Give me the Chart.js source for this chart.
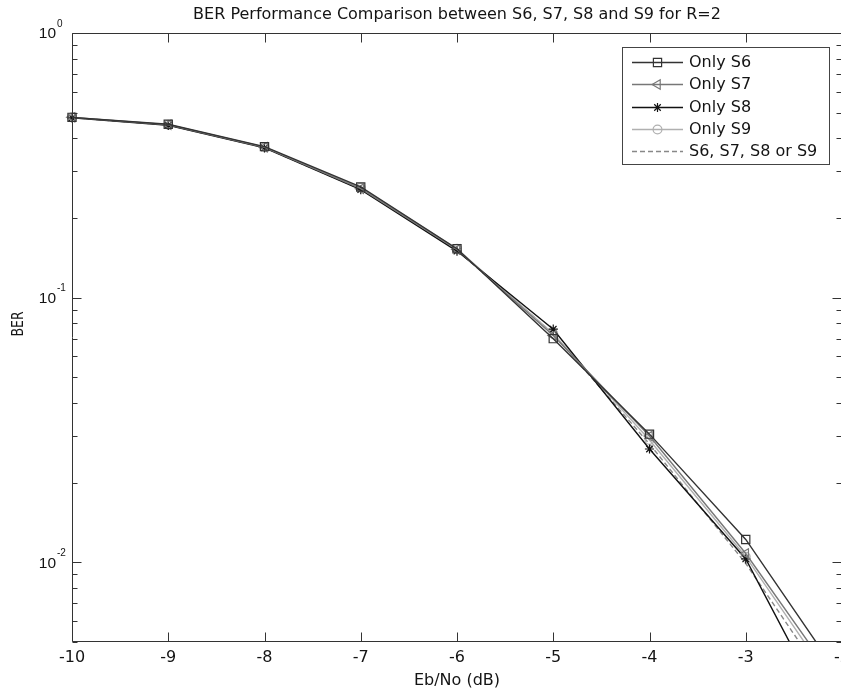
<!DOCTYPE html>
<html>
<head>
<meta charset="utf-8">
<title>BER Performance Comparison</title>
<style>
  html, body { margin: 0; padding: 0; background: #fff; overflow: hidden; width: 841px; height: 692px; }
  canvas { display: block; }
</style>
<script src="https://cdn.jsdelivr.net/npm/chart.js@4.4.0/dist/chart.umd.min.js"></script>
</head>
<body>
<canvas id="ber" width="880" height="692"></canvas>
<script>
// Eb/No sweep (dB) and measured bit error rates per subset
const ebno   = [-10, -9, -8, -7, -6, -5, -4, -3, -2];
const berS6  = [0.480, 0.452, 0.372, 0.262, 0.153, 0.0700, 0.0305, 0.0122, 0.0036];
const berS7  = [0.480, 0.450, 0.370, 0.258, 0.152, 0.0720, 0.0300, 0.0108, 0.0033];
const berS8  = [0.478, 0.448, 0.368, 0.256, 0.150, 0.0760, 0.0268, 0.0103, 0.0021];
const berS9  = [0.480, 0.450, 0.370, 0.260, 0.153, 0.0730, 0.0290, 0.0105, 0.0031];
const berAny = [0.479, 0.449, 0.369, 0.257, 0.151, 0.0730, 0.0280, 0.0099, 0.0029];

const seriesLabels = ['Only S6', 'Only S7', 'Only S8', 'Only S9', 'S6, S7, S8 or S9'];
const xTicks  = [-10, -9, -8, -7, -6, -5, -4, -3, -2];
const yDecades = [1, 0.1, 0.01];
const yMin = 0.005, yMax = 1;

const titleText = 'BER Performance Comparison between S6, S7, S8 and S9 for R=2';
const xTitle = 'Eb/No (dB)';
const yTitle = 'BER';

const FONT = "'DejaVu Sans', Verdana, sans-serif";
const NUM_FONT = "'Liberation Sans', Arial, Helvetica, sans-serif";
const INK = '#141414';

const pts = (ys) => ebno.map((x, i) => ({ x, y: ys[i] }));
const clipArea = { left: 12, top: 12, right: 0, bottom: 0 };

const datasets = [
  { label: seriesLabels[0], data: pts(berS6), borderColor: '#333333', pointStyle: 'rect', pointRadius: 5.8, pointRotation: 0 },
  { label: seriesLabels[1], data: pts(berS7), borderColor: '#777777', pointStyle: 'triangle', pointRadius: 5.4, pointRotation: -90 },
  { label: seriesLabels[2], data: pts(berS8), borderColor: '#111111', pointStyle: 'star', pointRadius: 4.6, pointRotation: 0 },
  { label: seriesLabels[3], data: pts(berS9), borderColor: '#b0b0b0', pointStyle: 'circle', pointRadius: 4.4, pointRotation: 0 },
  { label: seriesLabels[4], data: pts(berAny), borderColor: '#888888', pointStyle: false, pointRadius: 0, borderDash: [5, 3] }
].map(d => Object.assign({
  borderWidth: 1.4,
  pointBorderColor: d.borderColor,
  pointBackgroundColor: 'rgba(0,0,0,0)',
  pointBorderWidth: 1.2,
  tension: 0,
  fill: false,
  clip: clipArea
}, d));

// Axis box, inward tick marks, power-of-ten labels, rotated y title and legend
const axisDecor = {
  id: 'axisDecor',
  afterDatasetsDraw(chart) {
    const { ctx, chartArea: a, scales: { x, y } } = chart;
    const L = Math.round(a.left) + 0.5, R = Math.round(a.right) - 0.5;
    const T = Math.round(a.top) + 0.5, B = Math.round(a.bottom) - 0.5;
    ctx.save();
    ctx.strokeStyle = '#333';
    ctx.lineWidth = 1;
    ctx.setLineDash([]);
    ctx.beginPath();
    ctx.rect(L, T, R - L, B - T);
    // x ticks, bottom and top, pointing inward
    xTicks.forEach(v => {
      const px = Math.round(x.getPixelForValue(v)) + 0.5;
      ctx.moveTo(px, B); ctx.lineTo(px, B - 9);
      ctx.moveTo(px, T); ctx.lineTo(px, T + 9);
    });
    // y ticks: decades long, 2..9 multiples short
    for (let e = -3; e <= 0; e++) {
      for (let k = 1; k <= 9; k++) {
        const v = k * Math.pow(10, e);
        if (v < yMin * 0.999 || v > yMax * 1.001) continue;
        const len = k === 1 ? 9 : 5;
        const py = Math.round(y.getPixelForValue(v)) + 0.5;
        ctx.moveTo(L, py); ctx.lineTo(L + len, py);
        ctx.moveTo(R, py); ctx.lineTo(R - len, py);
      }
    }
    ctx.stroke();

    // decade labels 10^n
    ctx.fillStyle = INK;
    yDecades.forEach(v => {
      const py = y.getPixelForValue(v);
      const exp = String(Math.round(Math.log10(v)));
      ctx.font = `15.5px ${NUM_FONT}`;
      ctx.textAlign = 'right';
      ctx.textBaseline = 'middle';
      ctx.fillText('10', 56, py + 1);
      ctx.font = `10px ${NUM_FONT}`;
      ctx.textAlign = 'left';
      ctx.fillText(exp, 57, py - 9);
    });

    // rotated y-axis title
    ctx.save();
    ctx.translate(19, 324);
    ctx.rotate(-Math.PI / 2);
    ctx.scale(0.78, 1);
    ctx.font = `16px ${FONT}`;
    ctx.textAlign = 'center';
    ctx.textBaseline = 'middle';
    ctx.fillText(yTitle, 0, 0);
    ctx.restore();
    ctx.restore();
  },
  afterDraw(chart) {
    const { ctx } = chart;
    const bx = 622.5, by = 47.5, bw = 207, bh = 117;
    ctx.save();
    ctx.fillStyle = '#fff';
    ctx.strokeStyle = '#444';
    ctx.lineWidth = 1;
    ctx.setLineDash([]);
    ctx.fillRect(bx, by, bw, bh);
    ctx.strokeRect(bx, by, bw, bh);
    chart.data.datasets.forEach((ds, i) => {
      const ry = Math.round(62 + i * 22.3) + 0.5;
      ctx.strokeStyle = ds.borderColor;
      ctx.lineWidth = ds.borderWidth;
      ctx.setLineDash(ds.borderDash || []);
      ctx.beginPath();
      ctx.moveTo(632, ry); ctx.lineTo(683, ry);
      ctx.stroke();
      ctx.setLineDash([]);
      if (ds.pointStyle) {
        ctx.fillStyle = 'rgba(0,0,0,0)';
        ctx.strokeStyle = ds.pointBorderColor;
        ctx.lineWidth = ds.pointBorderWidth;
        Chart.helpers.drawPoint(ctx, {
          pointStyle: ds.pointStyle,
          rotation: ds.pointRotation,
          radius: ds.pointRadius,
          borderWidth: ds.pointBorderWidth
        }, 657.5, ry);
      }
      ctx.fillStyle = INK;
      ctx.font = `16px ${FONT}`;
      ctx.textAlign = 'left';
      ctx.textBaseline = 'middle';
      ctx.fillText(ds.label, 689, ry);
    });
    ctx.restore();
  }
};

new Chart(document.getElementById('ber'), {
  type: 'line',
  data: { datasets },
  plugins: [axisDecor],
  options: {
    responsive: false,
    animation: false,
    devicePixelRatio: 1,
    layout: { padding: { left: 0, right: 38, top: 0, bottom: 0 } },
    plugins: {
      legend: { display: false },
      tooltip: { enabled: false },
      title: {
        display: true,
        text: titleText,
        fullSize: false,
        color: INK,
        font: { family: FONT, size: 16, weight: 'normal' },
        padding: { top: 5.4, bottom: 8.4 }
      }
    },
    scales: {
      x: {
        type: 'linear',
        min: -10,
        max: -2,
        afterFit(s) { s.height = 50; },
        grid: { display: false, drawTicks: false },
        border: { display: false },
        ticks: {
          stepSize: 1,
          autoSkip: false,
          maxRotation: 0,
          padding: 6.4,
          color: INK,
          font: { family: FONT, size: 16 },
          callback: v => String(v)
        },
        title: {
          display: true,
          text: xTitle,
          color: INK,
          font: { family: FONT, size: 16 },
          padding: 1.4
        }
      },
      y: {
        type: 'logarithmic',
        min: yMin,
        max: yMax,
        afterFit(s) { s.width = 72; },
        grid: { display: false, drawTicks: false },
        border: { display: false },
        ticks: { display: false }
      }
    }
  }
});
</script>
</body>
</html>
